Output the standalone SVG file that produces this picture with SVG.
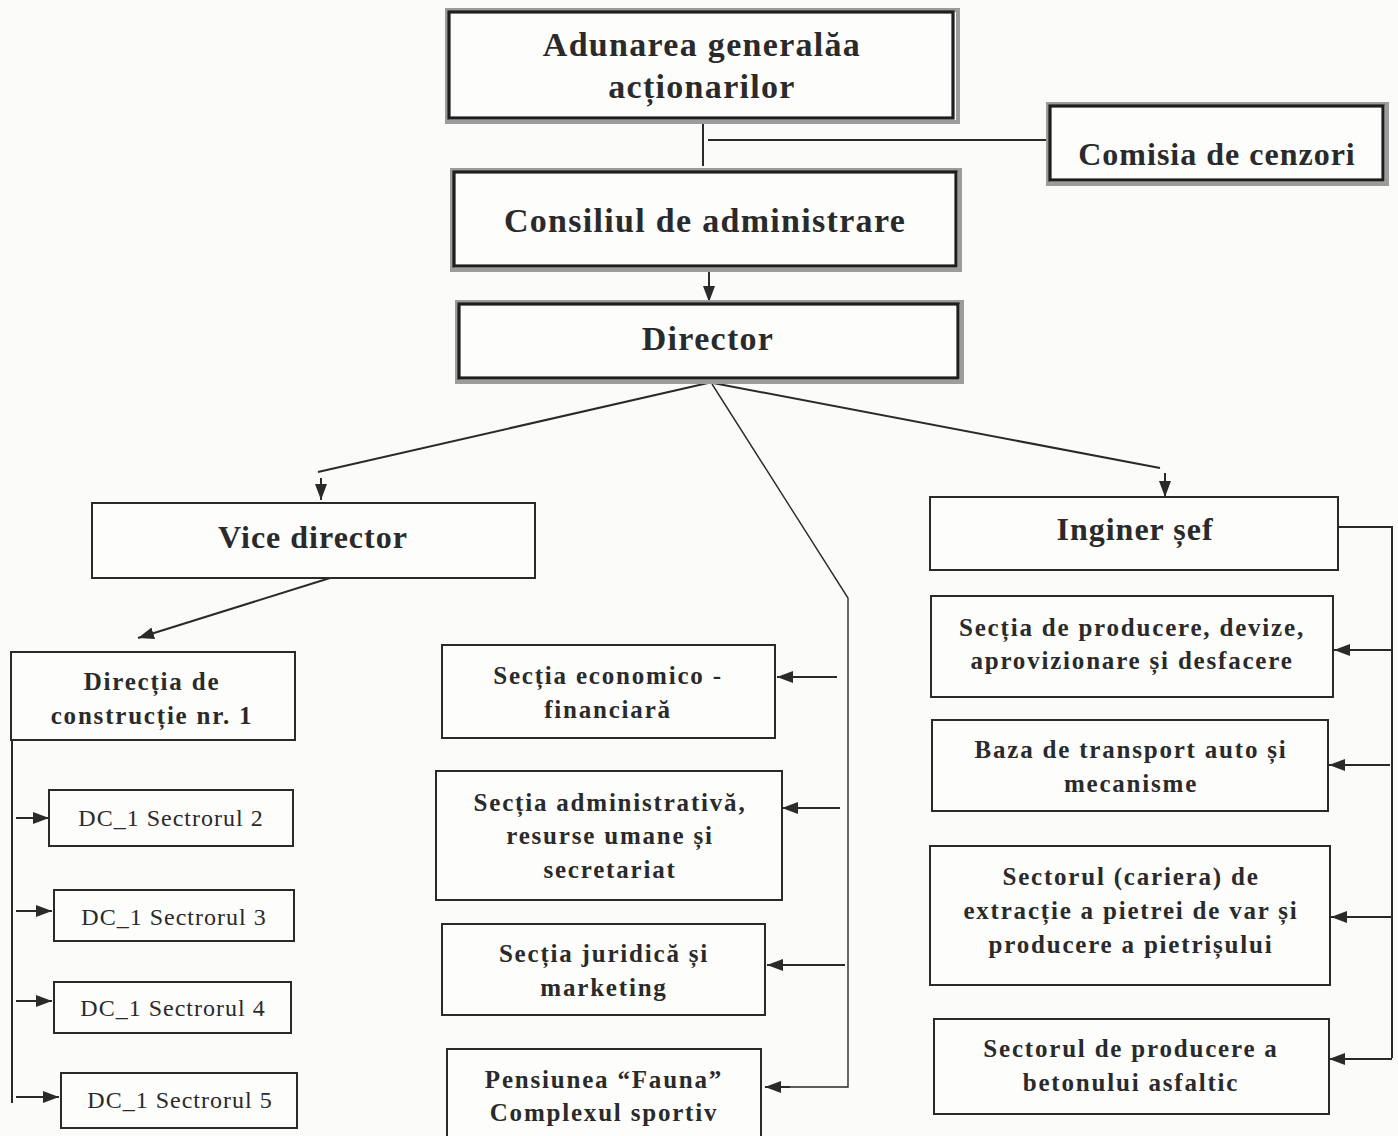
<svg xmlns="http://www.w3.org/2000/svg" width="1398" height="1136" viewBox="0 0 1398 1136">
<style>
.bg{fill:#fbfbfa}
.box{fill:#fdfdfc;stroke:#2a2a2a;stroke-width:2}
.top{fill:#fdfdfc;stroke:#1e1e1e;stroke-width:3.2}
.shadow{fill:none;stroke:#9c9c9c;stroke-width:4}
.ln{fill:none;stroke:#2a2a2a;stroke-width:2}
.thin{fill:none;stroke:#2a2a2a;stroke-width:1.4}
.t1{font-family:"Liberation Serif","Times New Roman",serif;font-weight:bold;font-size:34px;letter-spacing:1.3px;fill:#2a2a2a;text-anchor:middle}
.t2{font-family:"Liberation Serif","Times New Roman",serif;font-weight:bold;font-size:32px;letter-spacing:1px;fill:#2a2a2a;text-anchor:middle}
.t3{font-family:"Liberation Serif","Times New Roman",serif;font-weight:bold;font-size:25px;letter-spacing:1.8px;fill:#2a2a2a;text-anchor:middle}
.t4{font-family:"Liberation Serif","Times New Roman",serif;font-size:24px;letter-spacing:1px;fill:#2a2a2a;text-anchor:middle}
</style>
<defs>
<marker id="ah" markerUnits="userSpaceOnUse" markerWidth="18" markerHeight="14" refX="16" refY="6" orient="auto">
<path d="M0,0 L16,6 L0,12 z" fill="#2a2a2a"/>
</marker>
</defs>
<rect class="bg" x="0" y="0" width="1398" height="1136"/>

<g id="connectors">
<line class="ln" x1="703" y1="120" x2="703" y2="166"/>
<line class="ln" x1="708" y1="140" x2="1050" y2="140"/>
<line class="ln" x1="709" y1="268" x2="709" y2="302" marker-end="url(#ah)"/>
<line class="ln" x1="708" y1="383" x2="318" y2="472"/>
<line class="ln" x1="321" y1="478" x2="321" y2="500" marker-end="url(#ah)"/>
<line class="ln" x1="713" y1="383" x2="1160" y2="468"/>
<line class="ln" x1="1165" y1="473" x2="1165" y2="497" marker-end="url(#ah)"/>
<polyline class="thin" points="712,384 848,598 848,1087 766,1087"/>
<line class="ln" x1="790" y1="1087" x2="765" y2="1087" marker-end="url(#ah)"/>
<line class="ln" x1="837" y1="677" x2="777" y2="677" marker-end="url(#ah)"/>
<line class="ln" x1="840" y1="808" x2="782" y2="808" marker-end="url(#ah)"/>
<line class="ln" x1="845" y1="965" x2="767" y2="965" marker-end="url(#ah)"/>
<line class="ln" x1="330" y1="578" x2="138" y2="638" marker-end="url(#ah)"/>
<line class="ln" x1="12" y1="740" x2="12" y2="1103"/>
<line class="ln" x1="16" y1="818" x2="49" y2="818" marker-end="url(#ah)"/>
<line class="ln" x1="16" y1="911" x2="52" y2="911" marker-end="url(#ah)"/>
<line class="ln" x1="16" y1="1001" x2="52" y2="1001" marker-end="url(#ah)"/>
<line class="ln" x1="16" y1="1097" x2="59" y2="1097" marker-end="url(#ah)"/>
<polyline class="ln" points="1338,527 1392,527 1392,1058"/>
<line class="ln" x1="1392" y1="650" x2="1334" y2="650" marker-end="url(#ah)"/>
<line class="ln" x1="1390" y1="765" x2="1329" y2="765" marker-end="url(#ah)"/>
<line class="ln" x1="1392" y1="917" x2="1331" y2="917" marker-end="url(#ah)"/>
<line class="ln" x1="1392" y1="1059" x2="1329" y2="1059" marker-end="url(#ah)"/>
</g>

<g id="n-adunarea">
<rect class="shadow" x="447" y="10" width="511" height="112"/>
<rect class="top" x="449" y="12" width="504" height="106"/>
<text class="t1" x="702" y="56">Adunarea generalăa</text>
<text class="t1" x="702" y="98">acționarilor</text>
</g>
<g id="n-comisia">
<rect class="shadow" x="1048" y="104" width="339" height="80"/>
<rect class="top" x="1050" y="106" width="333" height="74"/>
<text class="t2" x="1217" y="165">Comisia de cenzori</text>
</g>
<g id="n-consiliul">
<rect class="shadow" x="452" y="170" width="508" height="100"/>
<rect class="top" x="454" y="172" width="502" height="94"/>
<text class="t1" x="705" y="232">Consiliul de administrare</text>
</g>
<g id="n-director">
<rect class="shadow" x="457" y="302" width="505" height="80"/>
<rect class="top" x="459" y="304" width="499" height="74"/>
<text class="t1" x="708" y="350">Director</text>
</g>

<g id="n-vice">
<rect class="box" x="92" y="503" width="443" height="75"/>
<text class="t2" x="313" y="548">Vice director</text>
</g>
<g id="n-directia">
<rect class="box" x="11" y="652" width="284" height="88"/>
<text class="t3" x="152" y="690">Direcția de</text>
<text class="t3" x="152" y="724">construcție nr. 1</text>
</g>
<g id="n-dc2">
<rect class="box" x="49" y="790" width="244" height="56"/>
<text class="t4" x="171" y="826">DC_1 Sectrorul 2</text>
</g>
<g id="n-dc3">
<rect class="box" x="54" y="890" width="240" height="51"/>
<text class="t4" x="174" y="925">DC_1 Sectrorul 3</text>
</g>
<g id="n-dc4">
<rect class="box" x="54" y="982" width="237" height="51"/>
<text class="t4" x="173" y="1016">DC_1 Sectrorul 4</text>
</g>
<g id="n-dc5">
<rect class="box" x="61" y="1073" width="236" height="55"/>
<text class="t4" x="180" y="1108">DC_1 Sectrorul 5</text>
</g>

<g id="n-economico">
<rect class="box" x="442" y="645" width="333" height="93"/>
<text class="t3" x="608" y="684">Secția economico -</text>
<text class="t3" x="608" y="718">financiară</text>
</g>
<g id="n-administrativa">
<rect class="box" x="436" y="771" width="346" height="129"/>
<text class="t3" x="610" y="811">Secția administrativă,</text>
<text class="t3" x="610" y="844">resurse umane și</text>
<text class="t3" x="610" y="878">secretariat</text>
</g>
<g id="n-juridica">
<rect class="box" x="442" y="924" width="323" height="91"/>
<text class="t3" x="604" y="962">Secția juridică și</text>
<text class="t3" x="604" y="996">marketing</text>
</g>
<g id="n-pensiunea">
<rect class="box" x="447" y="1049" width="314" height="100"/>
<text class="t3" x="604" y="1088">Pensiunea “Fauna”</text>
<text class="t3" x="604" y="1121">Complexul sportiv</text>
</g>

<g id="n-inginer">
<rect class="box" x="930" y="497" width="408" height="73"/>
<text class="t2" x="1135" y="540">Inginer șef</text>
</g>
<g id="n-productie">
<rect class="box" x="931" y="596" width="402" height="101"/>
<text class="t3" x="1132" y="636">Secția de producere, devize,</text>
<text class="t3" x="1132" y="669">aprovizionare și desfacere</text>
</g>
<g id="n-baza">
<rect class="box" x="932" y="720" width="396" height="91"/>
<text class="t3" x="1131" y="758">Baza de transport auto și</text>
<text class="t3" x="1131" y="792">mecanisme</text>
</g>
<g id="n-cariera">
<rect class="box" x="930" y="846" width="400" height="139"/>
<text class="t3" x="1131" y="885">Sectorul (cariera) de</text>
<text class="t3" x="1131" y="919">extracție a pietrei de var și</text>
<text class="t3" x="1131" y="953">producere a pietrișului</text>
</g>
<g id="n-beton">
<rect class="box" x="934" y="1019" width="395" height="95"/>
<text class="t3" x="1131" y="1057">Sectorul de producere a</text>
<text class="t3" x="1131" y="1091">betonului asfaltic</text>
</g>
</svg>
